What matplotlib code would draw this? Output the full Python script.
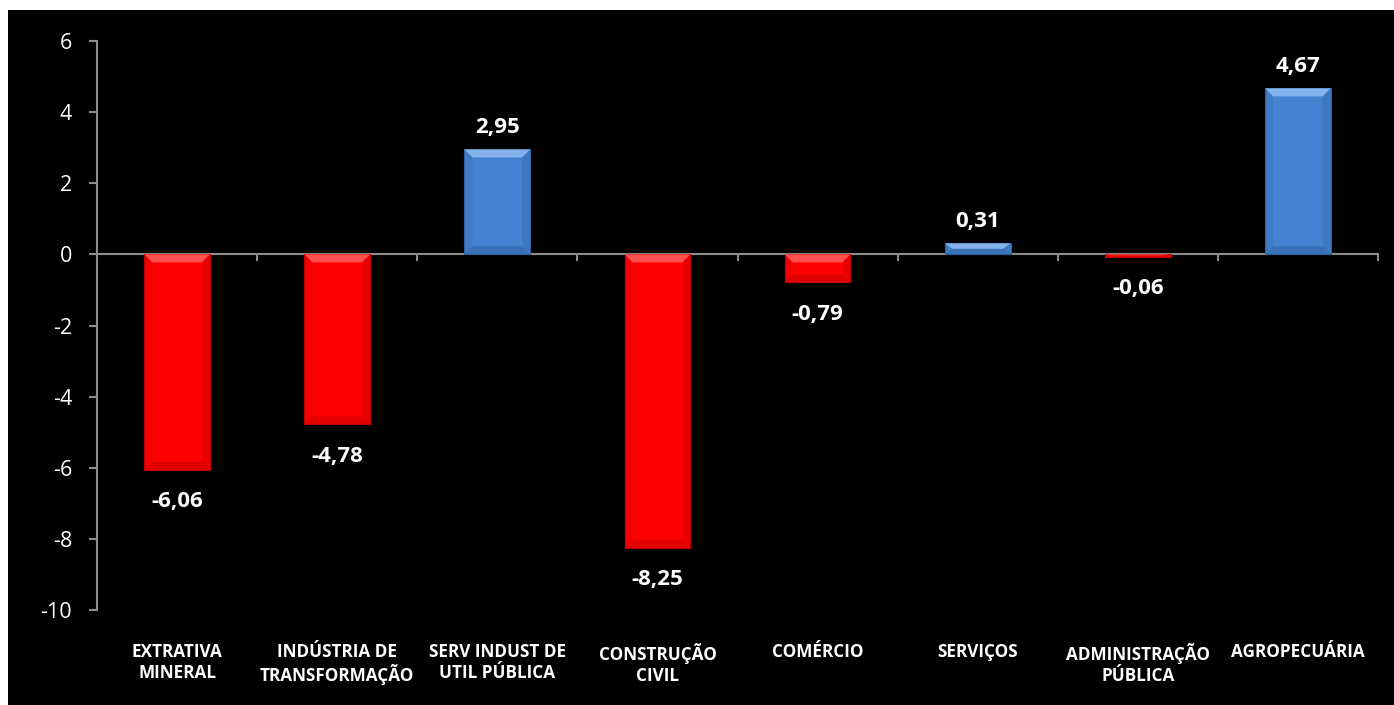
import numpy as np
import matplotlib.pyplot as plt
from matplotlib.patches import Polygon, Rectangle

plt.rcParams["font.family"] = ["Open Sans", "DejaVu Sans"]

sectors = [
    "EXTRATIVA\nMINERAL",
    "INDÚSTRIA DE\nTRANSFORMAÇÃO",
    "SERV INDUST DE\nUTIL PÚBLICA",
    "CONSTRUÇÃO\nCIVIL",
    "COMÉRCIO",
    "SERVIÇOS",
    "ADMINISTRAÇÃO\nPÚBLICA",
    "AGROPECUÁRIA",
]
variation = [-6.06, -4.78, 2.95, -8.25, -0.79, 0.31, -0.06, 4.67]
y_ticks = [-10, -8, -6, -4, -2, 0, 2, 4, 6]

RED = "#ff0000"
RED_LIGHT = "#ff5a5a"
RED_DARK = "#c00000"
BLUE = "#4682d2"
BLUE_LIGHT = "#8cb8f0"
BLUE_DARK = "#2f5f9e"
AXIS_GRAY = "#8c8c8c"

W, H, DPI = 1394, 705, 100
fig = plt.figure(figsize=(W / DPI, H / DPI), dpi=DPI, facecolor="white")
fig.patches.append(Rectangle((8 / W, 0), 1, 1 - 10 / H, transform=fig.transFigure,
                             facecolor="black", edgecolor="none", zorder=-10))

ax = fig.add_axes([97 / W, 1 - 610 / H, (1378 - 97) / W, (610 - 41) / H])
ax.patch.set_alpha(0)

x = np.arange(len(sectors))
bar_w = 0.41
ax.set_xlim(-0.5, len(sectors) - 0.5)
ax.set_ylim(-10, 6)

# pixel -> data scale for the bevel edges
px_x = (len(sectors)) / (1378 - 97)
px_y = 16 / (610 - 41)
bev = 8

for xi, v in zip(x, variation):
    pos = v >= 0
    base, light, dark = (BLUE, BLUE_LIGHT, BLUE_DARK) if pos else (RED, RED_LIGHT, RED_DARK)
    ax.bar(xi, v, width=bar_w, color=base, edgecolor=dark, linewidth=0.8, zorder=2)
    x0, x1 = xi - bar_w / 2, xi + bar_w / 2
    lo, hi = min(0, v), max(0, v)
    bx = bev * px_x
    by = min(bev * px_y, (hi - lo) / 2)
    # lighter bevel on the upper face, darker on the lower face
    top = [(x0, hi), (x1, hi), (x1 - bx, hi - by), (x0 + bx, hi - by)]
    bot = [(x0, lo), (x1, lo), (x1 - bx, lo + by), (x0 + bx, lo + by)]
    left = [(x0, lo), (x0, hi), (x0 + bx, hi - by), (x0 + bx, lo + by)]
    right = [(x1, lo), (x1, hi), (x1 - bx, hi - by), (x1 - bx, lo + by)]
    ax.add_patch(Polygon(top, closed=True, facecolor=light, edgecolor="none", alpha=0.9, zorder=3))
    ax.add_patch(Polygon(bot, closed=True, facecolor=dark, edgecolor="none", alpha=0.5, zorder=3))
    ax.add_patch(Polygon(left, closed=True, facecolor=dark, edgecolor="none", alpha=0.2, zorder=3))
    ax.add_patch(Polygon(right, closed=True, facecolor=dark, edgecolor="none", alpha=0.3, zorder=3))

    ax.annotate(f"{v:.2f}".replace(".", ","), (xi, v), xytext=(0, 16 if pos else -23),
                textcoords="offset points", ha="center", va="center",
                color="white", fontsize=16, fontweight="bold", zorder=4)

# x axis at zero with ticks at the category boundaries
for side in ["top", "right"]:
    ax.spines[side].set_visible(False)
ax.spines["bottom"].set_position(("data", 0))
ax.spines["bottom"].set_color(AXIS_GRAY)
ax.spines["left"].set_color(AXIS_GRAY)
ax.spines["bottom"].set_linewidth(1.5)
ax.spines["left"].set_linewidth(1.5)
ax.spines["bottom"].set_zorder(1)

ax.set_xticks(np.arange(len(sectors) + 1) - 0.5)
ax.set_xticklabels([])
ax.tick_params(axis="x", direction="out", length=5, width=1.5, color=AXIS_GRAY)

ax.set_yticks(y_ticks)
ax.set_yticklabels([str(t) for t in y_ticks])
ax.tick_params(axis="y", direction="out", length=6, width=1.5, color=AXIS_GRAY,
               labelcolor="white", labelsize=15.5, pad=12)

for xi, name in zip(x, sectors):
    ax.text(xi, -0.058, name, transform=ax.get_xaxis_transform(), ha="center", va="top",
            color="white", fontsize=12.3, fontweight="bold", linespacing=1.2)

fig.savefig("out.png", dpi=DPI, facecolor=fig.get_facecolor())
